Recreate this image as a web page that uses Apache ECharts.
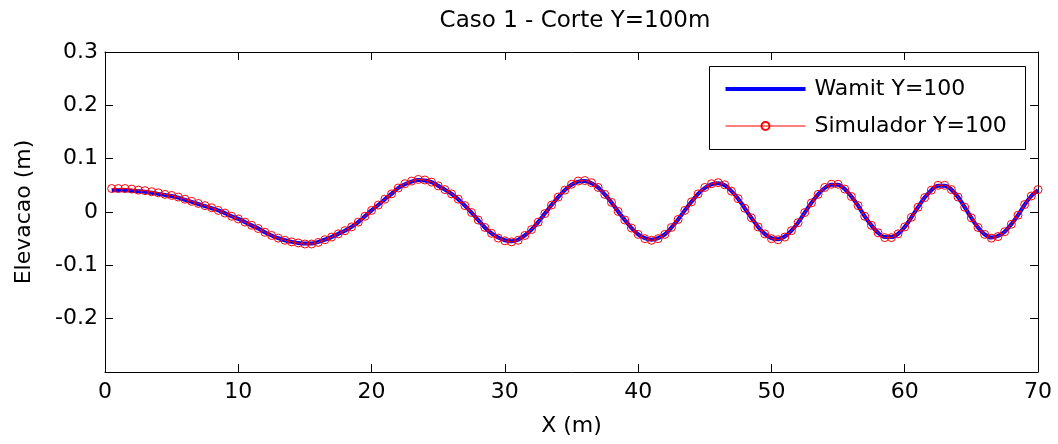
<!DOCTYPE html>
<html>
<head>
<meta charset="utf-8">
<script src="https://cdn.jsdelivr.net/npm/echarts@6/dist/echarts.min.js"></script>
<style>
html,body{margin:0;padding:0;background:#fff;}
#chart{width:1058px;height:444px;}
</style>
</head>
<body>
<div id="chart"></div>
<script>
var titleText = 'Caso 1 - Corte Y=100m';
var xName = 'X (m)';
var yName = 'Elevacao (m)';
var seriesNames = ['Wamit Y=100', 'Simulador Y=100'];
var xTicks = [0, 10, 20, 30, 40, 50, 60, 70];
var yTicks = [-0.3, -0.2, -0.1, 0, 0.1, 0.2, 0.3];

var xs = [
 0.5, 1.0, 1.5, 2.0, 2.5, 3.0, 3.5, 4.0, 4.5, 5.0,
 5.5, 6.0, 6.5, 7.0, 7.5, 8.0, 8.5, 9.0, 9.5, 10.0,
 10.5, 11.0, 11.5, 12.0, 12.5, 13.0, 13.5, 14.0, 14.5, 15.0,
 15.5, 16.0, 16.5, 17.0, 17.5, 18.0, 18.5, 19.0, 19.5, 20.0,
 20.5, 21.0, 21.5, 22.0, 22.5, 23.0, 23.5, 24.0, 24.5, 25.0,
 25.5, 26.0, 26.5, 27.0, 27.5, 28.0, 28.5, 29.0, 29.5, 30.0,
 30.5, 31.0, 31.5, 32.0, 32.5, 33.0, 33.5, 34.0, 34.5, 35.0,
 35.5, 36.0, 36.5, 37.0, 37.5, 38.0, 38.5, 39.0, 39.5, 40.0,
 40.5, 41.0, 41.5, 42.0, 42.5, 43.0, 43.5, 44.0, 44.5, 45.0,
 45.5, 46.0, 46.5, 47.0, 47.5, 48.0, 48.5, 49.0, 49.5, 50.0,
 50.5, 51.0, 51.5, 52.0, 52.5, 53.0, 53.5, 54.0, 54.5, 55.0,
 55.5, 56.0, 56.5, 57.0, 57.5, 58.0, 58.5, 59.0, 59.5, 60.0,
 60.5, 61.0, 61.5, 62.0, 62.5, 63.0, 63.5, 64.0, 64.5, 65.0,
 65.5, 66.0, 66.5, 67.0, 67.5, 68.0, 68.5, 69.0, 69.5, 70.0
];

var wamit = [
 0.041, 0.041, 0.041, 0.040, 0.039, 0.038, 0.036, 0.034, 0.032, 0.030,
 0.027, 0.023, 0.019, 0.015, 0.011, 0.007, 0.003, -0.002, -0.008, -0.013,
 -0.019, -0.025, -0.031, -0.038, -0.044, -0.049, -0.053, -0.056, -0.058, -0.059,
 -0.059, -0.056, -0.052, -0.047, -0.041, -0.035, -0.028, -0.019, -0.008, 0.003,
 0.013, 0.024, 0.034, 0.045, 0.052, 0.057, 0.060, 0.059, 0.056, 0.049,
 0.042, 0.034, 0.024, 0.012, -0.001, -0.015, -0.029, -0.040, -0.048, -0.053,
 -0.055, -0.052, -0.044, -0.033, -0.019, -0.003, 0.013, 0.028, 0.041, 0.051,
 0.057, 0.058, 0.054, 0.046, 0.033, 0.018, 0.001, -0.015, -0.030, -0.042,
 -0.049, -0.052, -0.049, -0.042, -0.029, -0.014, 0.003, 0.019, 0.034, 0.045,
 0.052, 0.054, 0.050, 0.039, 0.025, 0.007, -0.011, -0.028, -0.041, -0.049,
 -0.051, -0.046, -0.035, -0.020, -0.001, 0.017, 0.033, 0.045, 0.051, 0.051,
 0.043, 0.029, 0.012, -0.008, -0.025, -0.039, -0.047, -0.047, -0.041, -0.028,
 -0.010, 0.009, 0.027, 0.041, 0.049, 0.049, 0.042, 0.028, 0.009, -0.011,
 -0.029, -0.042, -0.048, -0.045, -0.037, -0.023, -0.006, 0.014, 0.030, 0.041
];

var simulador = [
 0.044, 0.044, 0.044, 0.043, 0.041, 0.040, 0.038, 0.036, 0.033, 0.031,
 0.028, 0.024, 0.020, 0.016, 0.012, 0.008, 0.003, -0.002, -0.008, -0.013,
 -0.019, -0.025, -0.031, -0.038, -0.044, -0.049, -0.053, -0.056, -0.058, -0.060,
 -0.060, -0.057, -0.052, -0.047, -0.041, -0.035, -0.028, -0.019, -0.008, 0.003,
 0.013, 0.024, 0.034, 0.045, 0.053, 0.058, 0.061, 0.060, 0.056, 0.049,
 0.042, 0.034, 0.024, 0.012, -0.001, -0.015, -0.029, -0.040, -0.049, -0.054,
 -0.056, -0.053, -0.044, -0.033, -0.019, -0.003, 0.013, 0.028, 0.041, 0.052,
 0.058, 0.059, 0.055, 0.046, 0.033, 0.018, 0.001, -0.015, -0.030, -0.042,
 -0.050, -0.053, -0.050, -0.042, -0.029, -0.014, 0.003, 0.019, 0.034, 0.046,
 0.053, 0.055, 0.051, 0.039, 0.025, 0.007, -0.011, -0.028, -0.041, -0.050,
 -0.052, -0.047, -0.035, -0.020, -0.001, 0.017, 0.033, 0.046, 0.052, 0.052,
 0.043, 0.029, 0.012, -0.008, -0.025, -0.039, -0.048, -0.048, -0.041, -0.028,
 -0.010, 0.009, 0.027, 0.041, 0.050, 0.050, 0.042, 0.028, 0.009, -0.011,
 -0.029, -0.042, -0.049, -0.046, -0.037, -0.023, -0.006, 0.014, 0.030, 0.042
];

var FONT = 'DejaVu Sans';
var wamitData = xs.map(function (x, i) { return [x, wamit[i]]; });
var simData = xs.map(function (x, i) { return [x, simulador[i]]; });

function fmtY(v) {
  if (v < -0.25) return '';
  if (Math.abs(v) < 1e-9) return '0';
  return v.toFixed(1);
}

var chart = echarts.init(document.getElementById('chart'), null, {renderer: 'canvas'});
var axisCommon = {
  axisLine: {show: true, onZero: false, lineStyle: {color: '#000', width: 1}},
  axisTick: {show: true, inside: true, length: 8, lineStyle: {color: '#000', width: 1}},
  splitLine: {show: false}
};

chart.setOption({
  animation: false,
  backgroundColor: '#fff',
  title: {
    text: titleText,
    left: 570, top: 5, textAlign: 'center',
    textStyle: {fontFamily: FONT, fontSize: 23, fontWeight: 'normal', color: '#000'}
  },
  grid: {left: 105, right: 20, top: 52, bottom: 72, containLabel: false},
  legend: {
    orient: 'vertical',
    left: 725, top: 78,
    padding: 0,
    itemWidth: 80, itemHeight: 10,
    itemGap: 15,
    data: [
      {name: seriesNames[0], icon: 'path://M0,0 L80,0 L80,4 L0,4 Z'},
      {name: seriesNames[1], lineStyle: {width: 1}}
    ],
    textStyle: {fontFamily: FONT, fontSize: 22, color: '#000', padding: [0, 0, 0, 4]}
  },
  graphic: [{
    type: 'rect', z: 100,
    shape: {x: 709.5, y: 66.5, width: 316, height: 83},
    style: {fill: 'none', stroke: '#000', lineWidth: 1}
  }],
  xAxis: [
    Object.assign({
      type: 'value', position: 'bottom',
      min: xTicks[0], max: xTicks[xTicks.length - 1], interval: 10,
      name: xName, nameLocation: 'middle', nameGap: 43,
      nameTextStyle: {fontFamily: FONT, fontSize: 22, color: '#000'},
      axisLabel: {show: true, margin: 9, fontFamily: FONT, fontSize: 22, color: '#000',
        formatter: function (v) { return String(v); }}
    }, axisCommon),
    Object.assign({
      type: 'value', position: 'top',
      min: xTicks[0], max: xTicks[xTicks.length - 1], interval: 10,
      axisLabel: {show: false}
    }, axisCommon)
  ],
  yAxis: [
    Object.assign({
      type: 'value', position: 'left',
      min: yTicks[0], max: yTicks[yTicks.length - 1], interval: 0.1,
      name: yName, nameLocation: 'middle', nameGap: 70, nameRotate: 90,
      nameTextStyle: {fontFamily: FONT, fontSize: 22, color: '#000'},
      axisLabel: {show: true, margin: 7, fontFamily: FONT, fontSize: 22, color: '#000',
        formatter: fmtY}
    }, axisCommon),
    Object.assign({
      type: 'value', position: 'right',
      min: yTicks[0], max: yTicks[yTicks.length - 1], interval: 0.1,
      axisLabel: {show: false}
    }, axisCommon)
  ],
  series: [
    {
      name: seriesNames[0], type: 'line', xAxisIndex: 0, yAxisIndex: 0,
      data: wamitData, symbol: 'none', smooth: 0.3,
      lineStyle: {color: '#0000ff', width: 4},
      itemStyle: {color: '#0000ff'},
      z: 2
    },
    {
      name: seriesNames[1], type: 'line', xAxisIndex: 0, yAxisIndex: 0,
      data: simData, symbol: 'circle', symbolSize: 8, showSymbol: true, smooth: 0.3,
      lineStyle: {color: '#ff0000', width: 1},
      itemStyle: {color: 'rgba(255,255,255,0)', borderColor: '#ff0000', borderWidth: 1},
      z: 3
    }
  ]
});
</script>
</body>
</html>
